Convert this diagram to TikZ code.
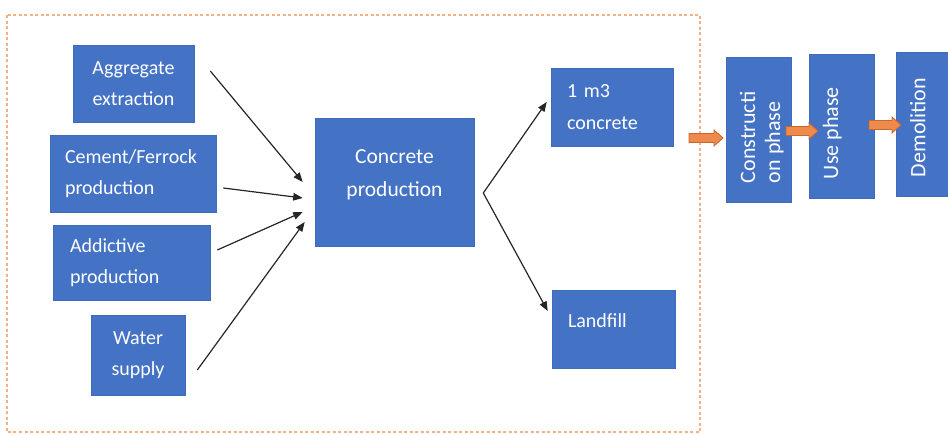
\documentclass[tikz,border=0pt]{standalone}
\usepackage{fontspec}
\setmainfont{Carlito}
\usetikzlibrary{arrows.meta,calc}
\definecolor{boxblue}{HTML}{4472C4}
\definecolor{boxedge}{HTML}{3F6BBA}
\definecolor{dashor}{HTML}{F4B183}
\definecolor{arrfill}{HTML}{EE8B4C}
\definecolor{arredge}{HTML}{C9662A}
\definecolor{linegray}{HTML}{262626}
\newcommand\blockarr[2]{%
  \path let \p1=(#1), \p2=(#2) in [blk]
    (\x1,\y1+4.5pt) -- (\x2-9pt,\y1+4.5pt) -- (\x2-9pt,\y1+8pt) -- (\x2,\y1)
    -- (\x2-9pt,\y1-8pt) -- (\x2-9pt,\y1-4.5pt) -- (\x1,\y1-4.5pt) -- cycle;}
\tikzset{
  bbox/.style={draw=boxedge, fill=boxblue, text=white, line width=0.6pt, inner sep=0pt,
    font=\fontsize{20}{31.5}\selectfont},
  vbox/.style={bbox, rotate=90, inner xsep=19pt, inner ysep=0pt,
    font=\fontsize{22}{25}\selectfont},
  inarrow/.style={draw=linegray, line width=1.2pt, -{Triangle[length=9.5pt,width=7.5pt]}},
  blk/.style={draw=arredge, fill=arrfill, line width=0.8pt},
  frame/.style={draw=dashor, line width=1.6pt, dash pattern=on 3pt off 2.5pt}
}
\begin{document}
\begin{tikzpicture}[x=1pt,y=-1pt]
\useasboundingbox (0,0) rectangle (948,434);
\draw[frame] (7,15) rectangle (700,432);

\node[bbox, minimum width=121pt, minimum height=77pt, align=center] (agg) at (133.5,83.5) {\raisebox{-3pt}{Aggregate}\\\raisebox{-3pt}{extraction}};
\node[bbox, minimum width=166pt, minimum height=77pt, text width=136pt, align=left] (cem) at (133,173.5) {\raisebox{-2pt}{Cement/Ferrock}\\\raisebox{-2pt}{production}};
\node[bbox, minimum width=157pt, minimum height=75pt, text width=123pt, align=left] (add) at (131.5,262.5) {\raisebox{-2pt}{Addictive}\\\raisebox{-2pt}{production}};
\node[bbox, minimum width=94pt, minimum height=80pt, align=center] (wat) at (138,355) {Water\\supply};
\node[bbox, minimum width=159pt, minimum height=128pt, font=\fontsize{21.5}{33}\selectfont] (conc) at (394.5,182)
  {\parbox[c][100pt][c]{150pt}{\centering Concrete\\production\par\vspace*{15pt}}};
\node[bbox, minimum width=122pt, minimum height=78pt, text width=90pt, align=left] (one) at (612,107) {\raisebox{-2pt}{1 m3}\\\raisebox{-2pt}{concrete}};
\node[bbox, minimum width=123pt, minimum height=78pt] (land) at (613.5,329)
  {\parbox[c][60pt][c]{91pt}{Landfill\par\vspace*{16pt}}};

\node[vbox, minimum width=145pt, minimum height=65pt] (cons) at (758.5,129.5)
  {\parbox[c][65pt][t]{107pt}{\raggedright\vspace*{14pt}Constructi\\on phase}};
\node[vbox, minimum width=144pt, minimum height=65pt] (use) at (841.3,126)
  {\parbox[c][65pt][t]{106pt}{\raggedright\vspace*{14pt}Use phase}};
\node[vbox, minimum width=144pt, minimum height=65pt] (dem) at (928.5,124)
  {\parbox[c][65pt][t]{106pt}{\raggedright\vspace*{14pt}Demolition}};

\coordinate (a1s) at ($(agg.east)+(16,-12.5)$);
\coordinate (a1e) at ($(conc.west)+(-12,0)$);
\coordinate (a2s) at ($(cem.east)+(7,14.5)$);
\coordinate (a2e) at ($(conc.west)+(-12,16)$);
\coordinate (a3s) at ($(add.east)+(7,-12.5)$);
\coordinate (a3e) at ($(conc.west)+(-12,30)$);
\coordinate (a4s) at ($(wat.east)+(12,15)$);
\coordinate (a4e) at ($(conc.west)+(-10,40)$);
\coordinate (br) at ($(conc.east)+(9,11)$);
\coordinate (t1) at ($(one.west)+(-4,-5)$);
\coordinate (t2) at ($(land.west)+(-4,-18)$);

\draw[inarrow] (a1s) -- (a1e);
\draw[inarrow] (a2s) -- (a2e);
\draw[inarrow] (a3s) -- (a3e);
\draw[inarrow] (a4s) -- (a4e);
\draw[inarrow] (br) -- (t1);
\draw[inarrow] (br) -- (t2);

\coordinate (o1s) at ($(cons.center)+(-69.5,8.5)$);
\coordinate (o1e) at ($(cons.center)+(-35.5,8.5)$);
\coordinate (o2s) at ($(cons.center)+(27.5,1.5)$);
\coordinate (o2e) at ($(use.center)+(-23.3,5)$);
\coordinate (o3s) at ($(use.center)+(27.7,-1)$);
\coordinate (o3e) at ($(dem.center)+(-27.5,1)$);
\blockarr{o1s}{o1e}
\blockarr{o2s}{o2e}
\blockarr{o3s}{o3e}
\end{tikzpicture}
\end{document}
